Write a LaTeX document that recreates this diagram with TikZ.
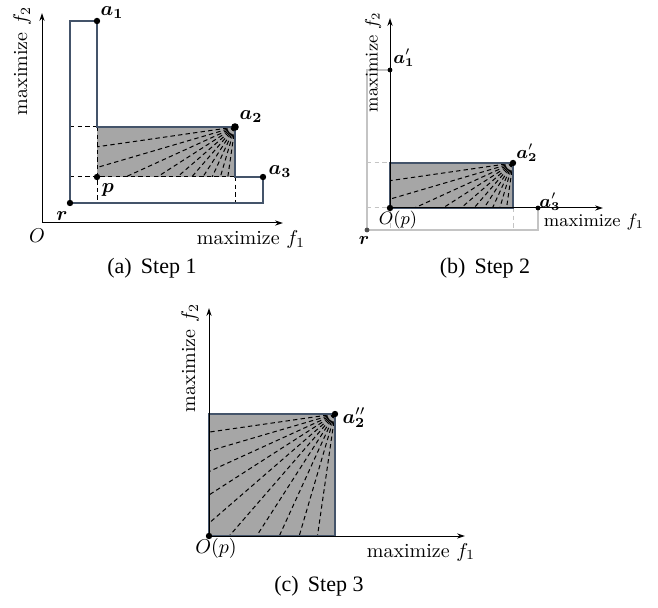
\documentclass[tikz,border=0pt]{standalone}
\usepackage{amsmath,amssymb}
\usepackage{bm}
\usepackage{fontspec}
\newfontfamily\capfont{Liberation Serif}
\usetikzlibrary{arrows.meta}

\definecolor{slate}{HTML}{44546A}
\definecolor{areagrey}{HTML}{A6A6A6}
\definecolor{faint}{HTML}{C4C4C4}

\begin{document}
\begin{tikzpicture}[x=0.5pt, y=-0.5pt,
    axis/.style={line width=0.5pt, -{Stealth[length=4pt,width=2.6pt]}},
    front/.style={draw=slate, line width=0.8pt},
    ghost/.style={draw=faint, line width=0.8pt},
    hidden/.style={line width=0.5pt, dash pattern=on 2.2pt off 1.6pt},
    ray/.style={line width=0.5pt, dash pattern=on 2.2pt off 1.6pt},
    dot/.style={circle, fill=black, inner sep=0pt, minimum size=3.2pt},
    smalldot/.style={circle, fill=black, inner sep=0pt, minimum size=2.4pt},
    caption/.style={font=\capfont\fontsize{11}{13}\selectfont}]
    \useasboundingbox (0,0) rectangle (658,608);

    % ---------------- (a) Step 1 ----------------
    \coordinate (Oa) at (42,223);
    \coordinate (Ya) at (42,13);
    \coordinate (Xa) at (283,223);
    \coordinate (r) at (70,203);
    \coordinate (a1) at (97,21);
    \coordinate (a2) at (235,127);
    \coordinate (a3) at (263,177);
    \coordinate (p) at (97,177);

    % Dominated region of a2 over p
    \fill[areagrey] (p) rectangle (a2);
    \begin{scope}
        \clip (p) rectangle (a2);
        \foreach \k in {1,...,10}
            \draw[ray] (a2) -- ++({180-\k*90/11}:400);
    \end{scope}

    % Hidden rectangle edges
    \draw[hidden] (r |- a2) -- (a1 |- a2);
    \draw[hidden] (a1 |- a2) -- (a1 |- r);
    \draw[hidden] (r |- p) -- (a2 |- p);
    \draw[hidden] (a2 |- p) -- (a2 |- r);

    % Outline of the union
    \draw[front] (r) -- (r |- a1) -- (a1) -- (a1 |- a2) -- (a2)
        -- (a2 |- a3) -- (a3) -- (a3 |- r) -- cycle;

    \draw[axis] (Oa) -- (Ya);
    \draw[axis] (Oa) -- (Xa);

    \node[dot] (r_dot) at (r) {};
    \node[dot] (a1_dot) at (a1) {};
    \node[dot, minimum size=3.8pt] (a2_dot) at (a2) {};
    \node[dot] (a3_dot) at (a3) {};
    \node[dot] (p_dot) at (p) {};

    \node (r_lbl) at (62,216) {$\bm{r}$};
    \node (a1_lbl) at (112,13) {$\bm{a}_{\bm{1}}$};
    \node (a2_lbl) at (251,117) {$\bm{a}_{\bm{2}}$};
    \node (a3_lbl) at (280,172) {$\bm{a}_{\bm{3}}$};
    \node (p_lbl) at (108,190) {$\bm{p}$};
    \node (Oa_lbl) at (37,236) {$O$};
    \node (xa_lbl) at (251,240) {maximize $f_1$};
    \node[rotate=90] (ya_lbl) at (22,61) {maximize $f_2$};
    \node[caption] (cap_a) at (152,268) {(a)\, Step 1};

    % ---------------- (b) Step 2 ----------------
    \coordinate (Ob) at (390,208);
    \coordinate (Yb) at (390,18);
    \coordinate (Xb) at (603,208);
    \coordinate (rb) at (367,230);
    \coordinate (a1b) at (390,70);
    \coordinate (a2b) at (513,163);
    \coordinate (a3b) at (538,208);

    % Old rectangles, shifted
    \draw[ghost] (a1b) -- (rb |- a1b) -- (rb) -- (rb -| a3b) -- (a3b);
    \draw[ghost, hidden] (rb |- a2b) -- (a1b |- a2b);
    \draw[ghost, hidden] (rb |- Ob) -- (Ob);
    \draw[ghost, hidden] (Ob) -- (Ob |- rb);
    \draw[ghost, hidden] (a2b |- Ob) -- (a2b |- rb);

    \fill[areagrey] (Ob) rectangle (a2b);
    \begin{scope}
        \clip (Ob) rectangle (a2b);
        \foreach \k in {1,...,10}
            \draw[ray] (a2b) -- ++({180-\k*90/11}:400);
    \end{scope}
    \draw[front] (Ob) rectangle (a2b);

    \draw[axis] (Ob) -- (Yb);
    \draw[axis] (Ob) -- (Xb);

    \node[smalldot, fill=black!70] (rb_dot) at (rb) {};
    \node[smalldot] (a1b_dot) at (a1b) {};
    \node[dot] (a2b_dot) at (a2b) {};
    \node[smalldot] (a3b_dot) at (a3b) {};
    \node[dot] (Ob_dot) at (Ob) {};

    \begin{scope}[every node/.style={font=\fontsize{9}{11}\selectfont}]
        \node (rb_lbl) at (364,241) {$\bm{r}$};
        \node (a1b_lbl) at (404,58) {$\bm{a}_{\bm{1}}'$};
        \node (a2b_lbl) at (527,153) {$\bm{a}_{\bm{2}}'$};
        \node (a3b_lbl) at (550,202) {$\bm{a}_{\bm{3}}'$};
        \node (Ob_lbl) at (398,220) {$O(p)$};
        \node (xb_lbl) at (594,222) {maximize $f_1$};
        \node[rotate=90] (yb_lbl) at (373,62) {maximize $f_2$};
    \end{scope}
    \node[caption] (cap_b) at (485,268) {(b)\, Step 2};

    % ---------------- (c) Step 3 ----------------
    \coordinate (Oc) at (209,536);
    \coordinate (Yc) at (209,308);
    \coordinate (Xc) at (465,536);
    \coordinate (a2c) at (335,414);

    \fill[areagrey] (Oc) rectangle (a2c);
    \begin{scope}
        \clip (Oc) rectangle (a2c);
        \foreach \k in {1,...,10}
            \draw[ray] (a2c) -- ++({180-\k*90/11}:400);
    \end{scope}
    \draw[front] (Oc) rectangle (a2c);

    \draw[axis] (Oc) -- (Yc);
    \draw[axis] (Oc) -- (Xc);

    \node[dot] (a2c_dot) at (a2c) {};
    \node[dot] (Oc_dot) at (Oc) {};

    \node (a2c_lbl) at (354,418) {$\bm{a}_{\bm{2}}''$};
    \node (Oc_lbl) at (216,548) {$O(p)$};
    \node (xc_lbl) at (421,552) {maximize $f_1$};
    \node[rotate=90] (yc_lbl) at (190,358) {maximize $f_2$};
    \node[caption] (cap_c) at (319,586) {(c)\, Step 3};
\end{tikzpicture}
\end{document}
